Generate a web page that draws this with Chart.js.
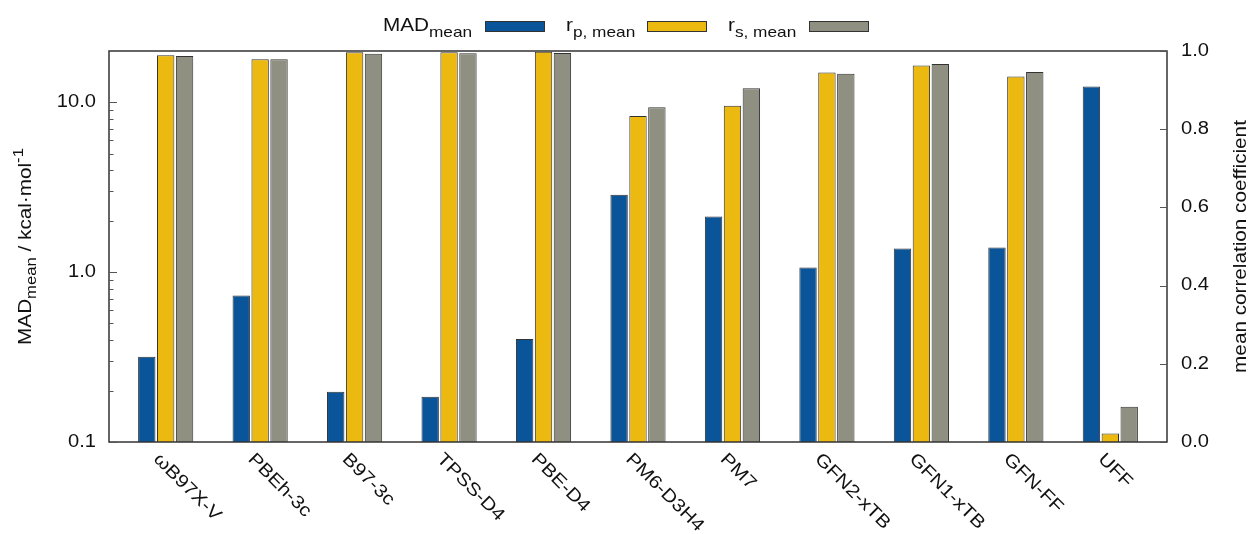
<!DOCTYPE html>
<html>
<head>
<meta charset="utf-8">
<script src="https://cdn.jsdelivr.net/npm/chart.js@4/dist/chart.umd.min.js"></script>
<style>
  html, body { margin: 0; padding: 0; background: #fff; }
  #wrap { width: 1248px; height: 534px; position: relative; }
</style>
</head>
<body>
<div id="wrap"><canvas id="myChart"></canvas></div>
<script>
// Methods along the x axis
let methods = ["ωB97X-V", "PBEh-3c", "B97-3c", "TPSS-D4", "PBE-D4", "PM6-D3H4", "PM7", "GFN2-xTB", "GFN1-xTB", "GFN-FF", "UFF"];

// MAD_mean in kcal/mol (left, log axis)
let madMean = [0.318, 0.73, 0.198, 0.185, 0.405, 2.86, 2.13, 1.066, 1.38, 1.40, 12.4];
// mean Pearson and Spearman correlation (right axis)
let rpMean = [0.989, 0.979, 0.997, 0.997, 0.998, 0.834, 0.860, 0.945, 0.963, 0.935, 0.022];
let rsMean = [0.987, 0.979, 0.993, 0.994, 0.995, 0.856, 0.905, 0.942, 0.967, 0.946, 0.090];

// Axis ticks
let madTicks = [0.1, 1, 10];
let madMinorTicks = [0.2, 0.3, 0.4, 0.5, 0.6, 0.7, 0.8, 0.9, 2, 3, 4, 5, 6, 7, 8, 9];
let corrTicks = [0, 0.2, 0.4, 0.6, 0.8, 1.0];

let blue = "#0a5499";
let yellow = "#ebb90f";
let grey = "#8f8f82";
let edge = "#333333";
let ink = "#111111";
let family = '"Liberation Sans", Arial, sans-serif';
let SX = 1.15; // glyphs are drawn a little wide

function toPoints(values) {
  return values.map((v, i) => ({ x: i, y: v }));
}

// draws a row of text pieces (normal / sub / super) with rotation
function drawRuns(ctx, x, y, angle, runs, align) {
  ctx.save();
  ctx.translate(x, y);
  ctx.rotate(angle);
  ctx.scale(SX, 1);
  ctx.fillStyle = ink;
  ctx.textBaseline = "alphabetic";
  ctx.textAlign = "left";
  let total = 0;
  runs.forEach(r => {
    ctx.font = r.size + "px " + family;
    total += ctx.measureText(r.text).width;
  });
  let cx = 0;
  if (align === "center") cx = -total / 2;
  if (align === "right") cx = -total;
  runs.forEach(r => {
    ctx.font = r.size + "px " + family;
    ctx.fillText(r.text, cx, r.dy || 0);
    cx += ctx.measureText(r.text).width;
  });
  ctx.restore();
}

const decorations = {
  id: "decorations",
  afterDraw(chart) {
    const ctx = chart.ctx;
    const area = chart.chartArea;
    const xs = chart.scales.x;
    const yl = chart.scales.yMad;
    const yr = chart.scales.yCorr;

    ctx.save();
    // plot frame
    ctx.strokeStyle = edge;
    ctx.lineWidth = 1.5;
    ctx.strokeRect(area.left, area.top, area.right - area.left, area.bottom - area.top);

    // left ticks, pointing in
    ctx.lineWidth = 1;
    ctx.strokeStyle = "#555";
    ctx.beginPath();
    madTicks.forEach(v => {
      const py = Math.round(yl.getPixelForValue(v)) + 0.5;
      ctx.moveTo(area.left, py);
      ctx.lineTo(area.left + 8, py);
    });
    madMinorTicks.forEach(v => {
      const py = Math.round(yl.getPixelForValue(v)) + 0.5;
      ctx.moveTo(area.left, py);
      ctx.lineTo(area.left + 4.5, py);
    });
    corrTicks.forEach(v => {
      const py = Math.round(yr.getPixelForValue(v)) + 0.5;
      ctx.moveTo(area.right, py);
      ctx.lineTo(area.right - 7, py);
    });
    ctx.stroke();

    // tick labels
    ctx.fillStyle = ink;
    ctx.textBaseline = "middle";
    madTicks.forEach(v => {
      const py = yl.getPixelForValue(v);
      ctx.save();
      ctx.translate(area.left - 13, py);
      ctx.scale(SX, 1);
      ctx.font = "17.5px " + family;
      ctx.textAlign = "right";
      ctx.fillText(v.toFixed(1), 0, 0);
      ctx.restore();
    });
    corrTicks.forEach(v => {
      const py = yr.getPixelForValue(v);
      ctx.save();
      ctx.translate(area.right + 14, py);
      ctx.scale(SX, 1);
      ctx.font = "17.5px " + family;
      ctx.textAlign = "left";
      ctx.fillText(v.toFixed(1), 0, 0);
      ctx.restore();
    });

    // category labels, slanted down to the right
    methods.forEach((name, i) => {
      const px = xs.getPixelForValue(i);
      drawRuns(ctx, px - 13, area.bottom + 18, Math.PI / 4, [{ text: name, size: 18 }], "left");
    });

    // axis titles
    const midY = (area.top + area.bottom) / 2;
    drawRuns(ctx, 31, midY, -Math.PI / 2, [
      { text: "MAD", size: 18 },
      { text: "mean", size: 14.5, dy: 5 },
      { text: " / kcal·mol", size: 18 },
      { text: "-1", size: 14.5, dy: -8 }
    ], "center");
    drawRuns(ctx, 1246, midY, -Math.PI / 2, [{ text: "mean correlation coefficient", size: 18 }], "center");

    // key above the plot
    const keys = [
      { main: "MAD", sub: "mean", tx: 383, bx: 485, color: blue },
      { main: "r", sub: "p, mean", tx: 566, bx: 647, color: yellow },
      { main: "r", sub: "s, mean", tx: 728, bx: 809, color: grey }
    ];
    keys.forEach(k => {
      drawRuns(ctx, k.tx, 31, 0, [
        { text: k.main, size: 18 },
        { text: k.sub, size: 15, dy: 6 }
      ], "left");
      ctx.fillStyle = k.color;
      ctx.fillRect(k.bx, 21, 59, 10);
      ctx.strokeStyle = edge;
      ctx.lineWidth = 1;
      ctx.strokeRect(k.bx + 0.5, 21.5, 59, 10);
    });
    ctx.restore();
  }
};

const data = {
  datasets: [
    {
      label: "MAD mean",
      data: toPoints(madMean),
      backgroundColor: blue,
      borderColor: edge,
      borderWidth: 1,
      yAxisID: "yMad",
    },
    {
      label: "r p, mean",
      data: toPoints(rpMean),
      backgroundColor: yellow,
      borderColor: edge,
      borderWidth: 1,
      yAxisID: "yCorr",
    },
    {
      label: "r s, mean",
      data: toPoints(rsMean),
      backgroundColor: grey,
      borderColor: edge,
      borderWidth: 1,
      yAxisID: "yCorr",
    },
  ],
};

const config = {
  type: "bar",
  data: data,
  options: {
    responsive: true,
    maintainAspectRatio: false,
    animation: false,
    categoryPercentage: 0.6,
    barPercentage: 0.92,
    layout: { padding: { left: 109, right: 81, top: 51, bottom: 92 } },
    plugins: {
      legend: { display: false },
      tooltip: { enabled: false },
    },
    scales: {
      x: {
        type: "linear",
        min: -0.6,
        max: 10.6,
        offset: false,
        display: false,
        // one tick per method so the bar spacing comes out as one unit
        afterBuildTicks: scale => {
          scale.ticks = methods.map((m, i) => ({ value: i }));
        },
      },
      yMad: { type: "logarithmic", min: 0.1, max: 20.1, display: false, position: "left" },
      yCorr: { type: "linear", min: 0, max: 1, display: false, position: "right" },
    },
  },
  plugins: [decorations],
};

const myChart = new Chart(document.getElementById("myChart").getContext("2d"), config);
</script>
</body>
</html>
